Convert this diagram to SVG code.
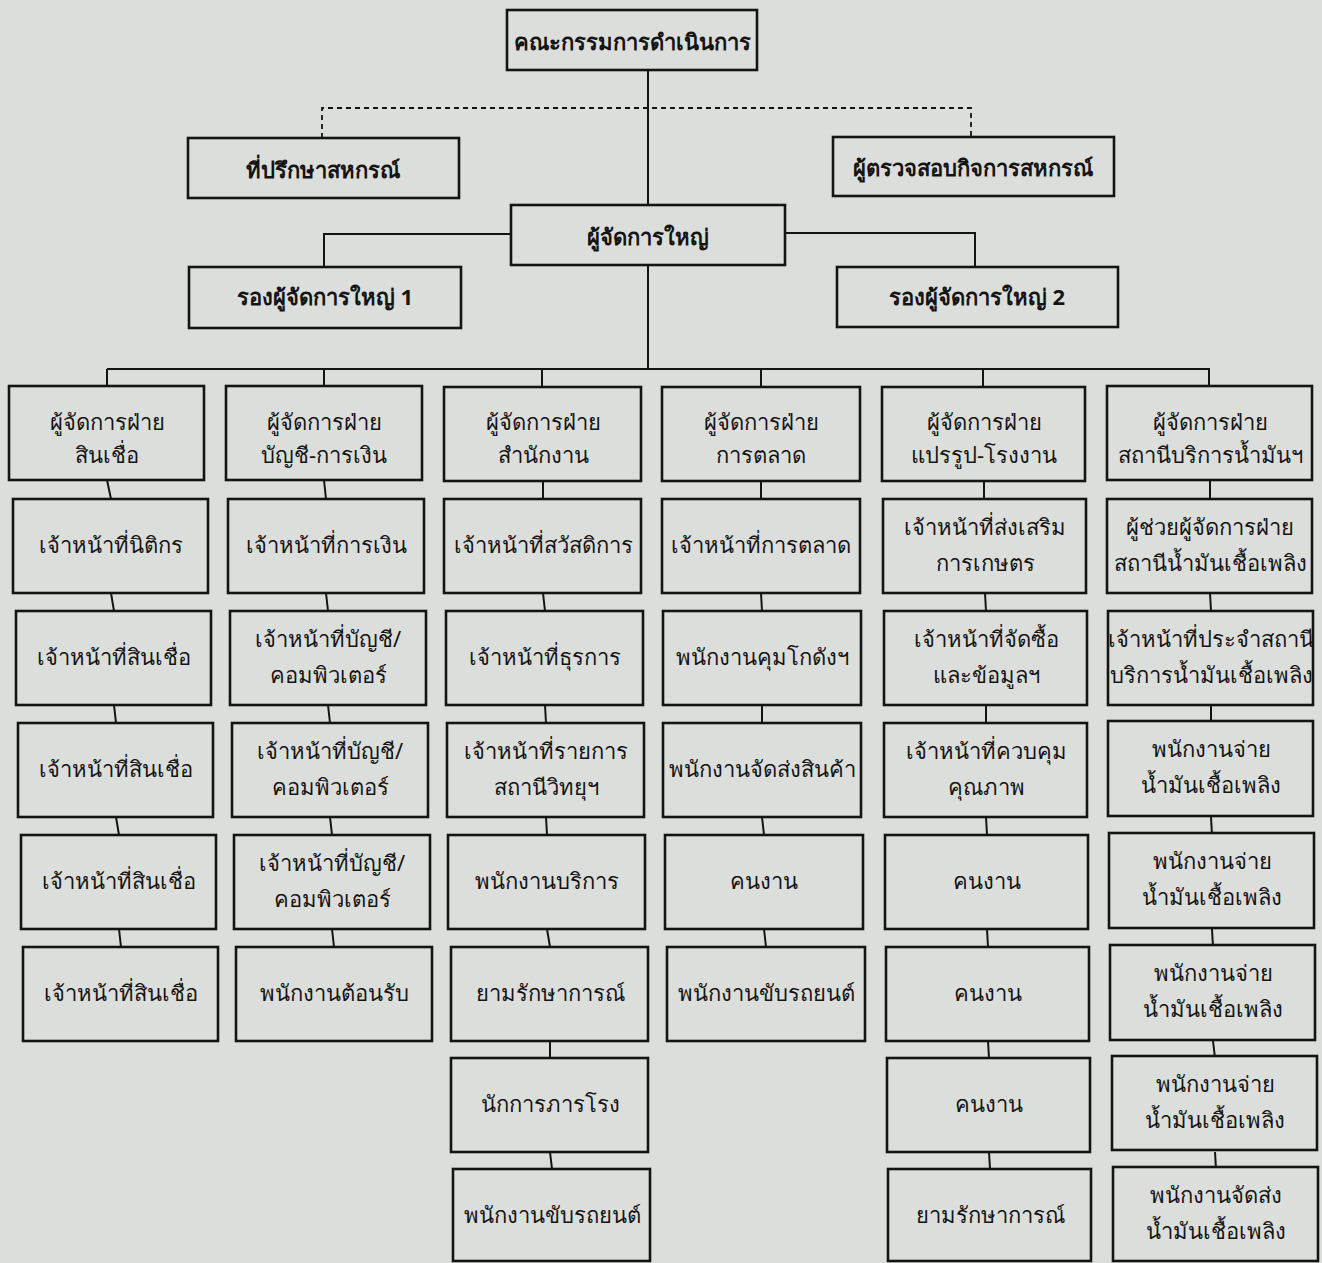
<svg xmlns="http://www.w3.org/2000/svg" width="1322" height="1263" viewBox="0 0 1322 1263">
  <style>
    .box { fill: #dcdedb; stroke: #141414; stroke-width: 2.6; }
    .ln { fill: none; stroke: #141414; stroke-width: 2; }
    .dash { fill: none; stroke: #141414; stroke-width: 1.8; stroke-dasharray: 5 4; }
    .t { font-family: "Noto Sans", "DejaVu Sans", sans-serif; font-size: 22px; fill: #141414; text-anchor: middle; }
    .h { font-family: "Noto Sans", "DejaVu Sans", sans-serif; font-size: 22px; font-weight: bold; fill: #141414; text-anchor: middle; }
  </style>
  <rect width="1322" height="1263" fill="#dcdedb"/>

  <!-- connectors -->
  <g id="connectors">
    <path class="ln" d="M648 70 V205 M648 265 V369 M107 369 H1210"/>
    <path class="dash" d="M322 138 V108 H971 V137"/>
    <path class="ln" d="M511 234 H324 V267 M785 233 H975 V267"/>
    <!-- drops from the department bar -->
    <path class="ln" d="M107 369 V386 M324 369 V386 M542 369 V387 M761 369 V387 M983 369 V387 M1209 369 V386"/>
    <!-- column 1 -->
    <path class="ln" d="M107 480 L111 499 M111 593 L114 611 M114 705 L116 723 M116 817 L119 835 M119 929 L121 947"/>
    <!-- column 2 -->
    <path class="ln" d="M324 480 L326 499 M326 593 L328 611 M328 705 L330 723 M330 817 L332 835 M332 929 L334 947"/>
    <!-- column 3 -->
    <path class="ln" d="M543 480 V499 M543 593 L545 611 M545 705 L546 723 M546 817 L547 835 M547 929 L550 947 M550 1041 V1058 M550 1152 L552 1169"/>
    <!-- column 4 -->
    <path class="ln" d="M761 480 V499 M761 593 L762 611 M762 705 V723 M762 817 L764 835 M764 929 L766 947"/>
    <!-- column 5 -->
    <path class="ln" d="M984 480 V499 M985 593 L986 611 M986 705 V723 M986 817 L987 835 M987 929 L988 947 M988 1041 L989 1058 M989 1152 L990 1169"/>
    <!-- column 6 -->
    <path class="ln" d="M1210 480 V499 M1210 593 L1211 611 M1211 705 V723 M1211 817 L1212 835 M1212 929 L1213 947 M1213 1041 L1215 1058 M1215 1152 L1216 1169"/>
  </g>

  <!-- top level -->
  <g id="board"><rect class="box" x="507" y="10" width="250" height="60"/><text class="h" x="632" y="50">คณะกรรมการดำเนินการ</text></g>
  <g id="advisor"><rect class="box" x="188" y="138" width="271" height="60"/><text class="h" x="323" y="178">ที่ปรึกษาสหกรณ์</text></g>
  <g id="auditor"><rect class="box" x="833" y="137" width="281" height="59"/><text class="h" x="973" y="176">ผู้ตรวจสอบกิจการสหกรณ์</text></g>
  <g id="gm"><rect class="box" x="511" y="205" width="274" height="60"/><text class="h" x="648" y="245">ผู้จัดการใหญ่</text></g>
  <g id="vp1"><rect class="box" x="189" y="267" width="272" height="61"/><text class="h" x="325" y="305">รองผู้จัดการใหญ่ 1</text></g>
  <g id="vp2"><rect class="box" x="837" y="267" width="281" height="60"/><text class="h" x="977" y="305">รองผู้จัดการใหญ่ 2</text></g>

  <!-- credit department -->
  <g id="c1r1"><rect class="box" x="9" y="386" width="195" height="94"/><text class="t" x="107" y="430">ผู้จัดการฝ่าย</text><text class="t" x="107" y="463">สินเชื่อ</text></g>
  <g id="c1r2"><rect class="box" x="13" y="499" width="195" height="94"/><text class="t" x="111" y="553">เจ้าหน้าที่นิติกร</text></g>
  <g id="c1r3"><rect class="box" x="16" y="611" width="195" height="94"/><text class="t" x="114" y="665">เจ้าหน้าที่สินเชื่อ</text></g>
  <g id="c1r4"><rect class="box" x="18" y="723" width="195" height="94"/><text class="t" x="116" y="777">เจ้าหน้าที่สินเชื่อ</text></g>
  <g id="c1r5"><rect class="box" x="21" y="835" width="195" height="94"/><text class="t" x="119" y="889">เจ้าหน้าที่สินเชื่อ</text></g>
  <g id="c1r6"><rect class="box" x="23" y="947" width="195" height="94"/><text class="t" x="121" y="1001">เจ้าหน้าที่สินเชื่อ</text></g>

  <!-- accounting and finance department -->
  <g id="c2r1"><rect class="box" x="226" y="386" width="196" height="94"/><text class="t" x="324" y="430">ผู้จัดการฝ่าย</text><text class="t" x="324" y="463">บัญชี-การเงิน</text></g>
  <g id="c2r2"><rect class="box" x="228" y="499" width="196" height="94"/><text class="t" x="326" y="553">เจ้าหน้าที่การเงิน</text></g>
  <g id="c2r3"><rect class="box" x="230" y="611" width="196" height="94"/><text class="t" x="328" y="647">เจ้าหน้าที่บัญชี/</text><text class="t" x="328" y="683">คอมพิวเตอร์</text></g>
  <g id="c2r4"><rect class="box" x="232" y="723" width="196" height="94"/><text class="t" x="330" y="759">เจ้าหน้าที่บัญชี/</text><text class="t" x="330" y="795">คอมพิวเตอร์</text></g>
  <g id="c2r5"><rect class="box" x="234" y="835" width="196" height="94"/><text class="t" x="332" y="871">เจ้าหน้าที่บัญชี/</text><text class="t" x="332" y="907">คอมพิวเตอร์</text></g>
  <g id="c2r6"><rect class="box" x="236" y="947" width="196" height="94"/><text class="t" x="334" y="1001">พนักงานต้อนรับ</text></g>

  <!-- office department -->
  <g id="c3r1"><rect class="box" x="444" y="387" width="197" height="94"/><text class="t" x="543" y="430">ผู้จัดการฝ่าย</text><text class="t" x="543" y="463">สำนักงาน</text></g>
  <g id="c3r2"><rect class="box" x="444" y="499" width="197" height="94"/><text class="t" x="543" y="553">เจ้าหน้าที่สวัสดิการ</text></g>
  <g id="c3r3"><rect class="box" x="446" y="611" width="197" height="94"/><text class="t" x="545" y="665">เจ้าหน้าที่ธุรการ</text></g>
  <g id="c3r4"><rect class="box" x="447" y="723" width="197" height="94"/><text class="t" x="546" y="759">เจ้าหน้าที่รายการ</text><text class="t" x="546" y="795">สถานีวิทยุฯ</text></g>
  <g id="c3r5"><rect class="box" x="448" y="835" width="197" height="94"/><text class="t" x="547" y="889">พนักงานบริการ</text></g>
  <g id="c3r6"><rect class="box" x="451" y="947" width="197" height="94"/><text class="t" x="550" y="1001">ยามรักษาการณ์</text></g>
  <g id="c3r7"><rect class="box" x="451" y="1058" width="197" height="94"/><text class="t" x="550" y="1112">นักการภารโรง</text></g>
  <g id="c3r8"><rect class="box" x="453" y="1169" width="197" height="92"/><text class="t" x="552" y="1223">พนักงานขับรถยนต์</text></g>

  <!-- marketing department -->
  <g id="c4r1"><rect class="box" x="662" y="387" width="198" height="94"/><text class="t" x="761" y="430">ผู้จัดการฝ่าย</text><text class="t" x="761" y="463">การตลาด</text></g>
  <g id="c4r2"><rect class="box" x="662" y="499" width="198" height="94"/><text class="t" x="761" y="553">เจ้าหน้าที่การตลาด</text></g>
  <g id="c4r3"><rect class="box" x="663" y="611" width="198" height="94"/><text class="t" x="762" y="665">พนักงานคุมโกดังฯ</text></g>
  <g id="c4r4"><rect class="box" x="663" y="723" width="198" height="94"/><text class="t" x="762" y="777">พนักงานจัดส่งสินค้า</text></g>
  <g id="c4r5"><rect class="box" x="665" y="835" width="198" height="94"/><text class="t" x="764" y="889">คนงาน</text></g>
  <g id="c4r6"><rect class="box" x="667" y="947" width="198" height="94"/><text class="t" x="766" y="1001">พนักงานขับรถยนต์</text></g>

  <!-- processing and factory department -->
  <g id="c5r1"><rect class="box" x="882" y="387" width="203" height="94"/><text class="t" x="984" y="430">ผู้จัดการฝ่าย</text><text class="t" x="984" y="463">แปรรูป-โรงงาน</text></g>
  <g id="c5r2"><rect class="box" x="883" y="499" width="203" height="94"/><text class="t" x="985" y="535">เจ้าหน้าที่ส่งเสริม</text><text class="t" x="985" y="571">การเกษตร</text></g>
  <g id="c5r3"><rect class="box" x="884" y="611" width="203" height="94"/><text class="t" x="986" y="647">เจ้าหน้าที่จัดซื้อ</text><text class="t" x="986" y="683">และข้อมูลฯ</text></g>
  <g id="c5r4"><rect class="box" x="884" y="723" width="203" height="94"/><text class="t" x="986" y="759">เจ้าหน้าที่ควบคุม</text><text class="t" x="986" y="795">คุณภาพ</text></g>
  <g id="c5r5"><rect class="box" x="885" y="835" width="203" height="94"/><text class="t" x="987" y="889">คนงาน</text></g>
  <g id="c5r6"><rect class="box" x="886" y="947" width="203" height="94"/><text class="t" x="988" y="1001">คนงาน</text></g>
  <g id="c5r7"><rect class="box" x="887" y="1058" width="203" height="94"/><text class="t" x="989" y="1112">คนงาน</text></g>
  <g id="c5r8"><rect class="box" x="888" y="1169" width="203" height="92"/><text class="t" x="990" y="1223">ยามรักษาการณ์</text></g>

  <!-- fuel service station department -->
  <g id="c6r1"><rect class="box" x="1107" y="386" width="205" height="94"/><text class="t" x="1210" y="430">ผู้จัดการฝ่าย</text><text class="t" x="1210" y="463">สถานีบริการน้ำมันฯ</text></g>
  <g id="c6r2"><rect class="box" x="1107" y="499" width="205" height="94"/><text class="t" x="1210" y="535">ผู้ช่วยผู้จัดการฝ่าย</text><text class="t" x="1210" y="571">สถานีน้ำมันเชื้อเพลิง</text></g>
  <g id="c6r3"><rect class="box" x="1108" y="611" width="205" height="94"/><text class="t" x="1211" y="647">เจ้าหน้าที่ประจำสถานี</text><text class="t" x="1211" y="683">บริการน้ำมันเชื้อเพลิง</text></g>
  <g id="c6r4"><rect class="box" x="1108" y="721" width="205" height="95"/><text class="t" x="1211" y="757">พนักงานจ่าย</text><text class="t" x="1211" y="793">น้ำมันเชื้อเพลิง</text></g>
  <g id="c6r5"><rect class="box" x="1109" y="833" width="205" height="95"/><text class="t" x="1212" y="869">พนักงานจ่าย</text><text class="t" x="1212" y="905">น้ำมันเชื้อเพลิง</text></g>
  <g id="c6r6"><rect class="box" x="1110" y="945" width="205" height="95"/><text class="t" x="1213" y="981">พนักงานจ่าย</text><text class="t" x="1213" y="1017">น้ำมันเชื้อเพลิง</text></g>
  <g id="c6r7"><rect class="box" x="1112" y="1056" width="205" height="94"/><text class="t" x="1215" y="1092">พนักงานจ่าย</text><text class="t" x="1215" y="1128">น้ำมันเชื้อเพลิง</text></g>
  <g id="c6r8"><rect class="box" x="1113" y="1167" width="205" height="94"/><text class="t" x="1216" y="1203">พนักงานจัดส่ง</text><text class="t" x="1216" y="1239">น้ำมันเชื้อเพลิง</text></g>
</svg>
